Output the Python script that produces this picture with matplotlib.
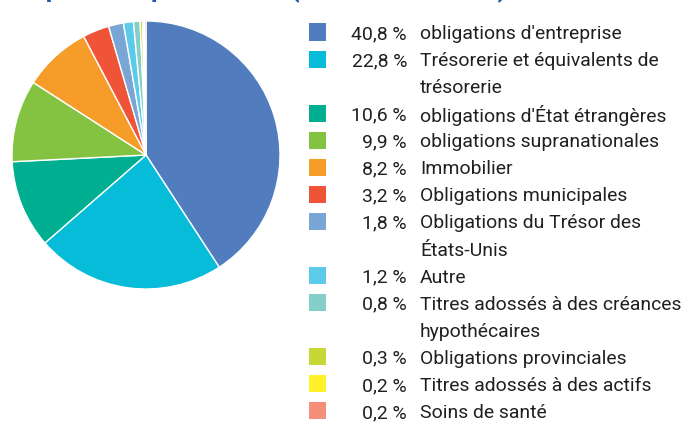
import matplotlib.pyplot as plt
from matplotlib.patches import Rectangle

# sector weights (%), legend order = pie order (clockwise from 12 o'clock)
sectors = [
    "obligations d'entreprise",
    "Trésorerie et équivalents de\ntrésorerie",
    "obligations d'État étrangères",
    "obligations supranationales",
    "Immobilier",
    "Obligations municipales",
    "Obligations du Trésor des\nÉtats-Unis",
    "Autre",
    "Titres adossés à des créances\nhypothécaires",
    "Obligations provinciales",
    "Titres adossés à des actifs",
    "Soins de santé",
]
weights = [40.8, 22.8, 10.6, 9.9, 8.2, 3.2, 1.8, 1.2, 0.8, 0.3, 0.2, 0.2]
colors = ["#517dbf", "#06bcd9", "#00ae91", "#84c341", "#f59c29", "#ef5439",
          "#7aa6d6", "#5ccbea", "#84d0c8", "#c7d735", "#fff22b", "#f58f7a"]

title = "Répartition par secteur (au 31 mars 2024)"

W, H = 688, 426
fig = plt.figure(figsize=(W / 100, H / 100), dpi=100)
fig.patch.set_facecolor("white")

font = ["Roboto", "DejaVu Sans"]
renderer = fig.canvas.get_renderer()


def fit_size(s, target_px, base=15, **kw):
    t = fig.text(0, 0, s, fontsize=base, family=font, **kw)
    w = t.get_window_extent(renderer).width
    t.remove()
    return base * target_px / w


# title is cropped at the top of the image, only descenders show
tsize = fit_size("Répartition par secteur ", 278, fontweight="bold")
fig.text(15 / W, 1 + 3 / H, title, fontsize=tsize, fontweight="bold",
         color="#1d5aa6", family=font, ha="left", va="baseline")

# --- PIE ---
cx, cy, r = 146, 155, 134
ax = fig.add_axes([(cx - r) / W, (H - cy - r) / H, 2 * r / W, 2 * r / H])
ax.pie(weights, colors=colors, startangle=90, counterclock=False,
       wedgeprops=dict(edgecolor="white", linewidth=1.0))
ax.set_xlim(-1, 1)
ax.set_ylim(-1, 1)
ax.axis("off")

# --- LEGEND ---
fs = min(fit_size("obligations d'entreprise", 213),
         fit_size("Titres adossés à des créances", 262))
line_h = 27.07
y0 = 32
line = 0
for name, w, c in zip(sectors, weights, colors):
    y = y0 + line * line_h
    fig.patches.append(Rectangle((309 / W, (H - y - 8.5) / H), 17 / W, 17 / H,
                                 facecolor=c, edgecolor="none",
                                 transform=fig.transFigure))
    fig.text(407 / W, (H - y) / H, f"{w:.1f} %".replace(".", ","),
             fontsize=fs, family=font, color="#231f20", ha="right",
             va="center_baseline")
    for part in name.split("\n"):
        y = y0 + line * line_h
        fig.text(420 / W, (H - y) / H, part, fontsize=fs, family=font,
                 color="#231f20", ha="left", va="center_baseline")
        line += 1

fig.savefig("out.png", dpi=100)
